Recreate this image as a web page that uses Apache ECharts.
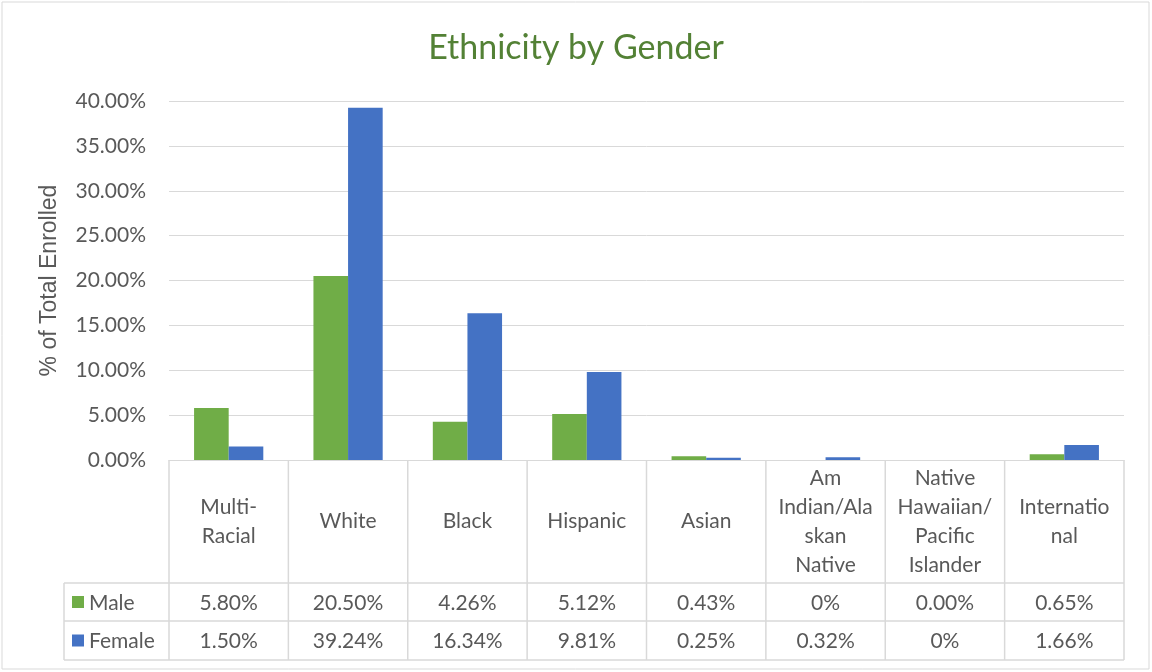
<!DOCTYPE html>
<html>
<head>
<meta charset="utf-8">
<script src="https://cdn.jsdelivr.net/npm/echarts@6/dist/echarts.min.js"></script>
<style>
  html, body { margin: 0; padding: 0; background: #fff; }
  #chart { width: 1152px; height: 672px; }
</style>
</head>
<body>
<div id="chart"></div>
<script>
// categories (wrapped as in the data table header)
const categories = ['Multi-\nRacial', 'White', 'Black', 'Hispanic', 'Asian',
  'Am\nIndian/Ala\nskan\nNative', 'Native\nHawaiian/\nPacific\nIslander', 'Internatio\nnal']
const seriesNames = ['Male', 'Female']
const maleValues = [5.80, 20.50, 4.26, 5.12, 0.43, 0, 0.00, 0.65]
const femaleValues = [1.50, 39.24, 16.34, 9.81, 0.25, 0.32, 0, 1.66]
// labels as printed in the table
const maleLabels = ['5.80%', '20.50%', '4.26%', '5.12%', '0.43%', '0%', '0.00%', '0.65%']
const femaleLabels = ['1.50%', '39.24%', '16.34%', '9.81%', '0.25%', '0.32%', '0%', '1.66%']

const GREEN = '#70ad47'
const BLUE = '#4472c4'
const LINE = '#d9d9d9'
const TEXT = '#595959'
const FONT = 'Lato, "Open Sans", sans-serif'

const chart = echarts.init(document.getElementById('chart'))

const option = {
  backgroundColor: '#fff',
  animation: false,
  title: {
    text: 'Ethnicity by Gender',
    left: 'center',
    top: 26,
    textStyle: { color: '#538135', fontSize: 34, fontWeight: 'normal', fontFamily: FONT }
  },
  grid: { left: 169, right: 28, top: 101, bottom: 212 },
  xAxis: {
    type: 'category',
    data: categories,
    axisLine: { show: true, lineStyle: { color: LINE, width: 1 } },
    axisTick: { show: false },
    axisLabel: { show: false }
  },
  yAxis: {
    type: 'value',
    min: 0,
    max: 40,
    interval: 5,
    name: '% of Total Enrolled',
    nameLocation: 'middle',
    nameGap: 108,
    nameTextStyle: { color: TEXT, fontSize: 23, fontFamily: '"Liberation Sans", Arial, sans-serif' },
    axisLine: { show: false },
    axisTick: { show: false },
    axisLabel: {
      color: TEXT,
      fontSize: 21,
      fontFamily: FONT,
      margin: 23,
      formatter: v => v.toFixed(2) + '%'
    },
    splitLine: { lineStyle: { color: LINE, width: 1 } }
  },
  series: [
    {
      name: seriesNames[0],
      type: 'bar',
      data: maleValues,
      itemStyle: { color: GREEN },
      barGap: '0%',
      barCategoryGap: '42%'
    },
    {
      name: seriesNames[1],
      type: 'bar',
      data: femaleValues,
      itemStyle: { color: BLUE },
      barGap: '0%',
      barCategoryGap: '42%'
    }
  ]
}

chart.setOption(option)

// data table under the plot, laid out from the category axis
const buildTable = () => {
  const c0 = chart.convertToPixel({ xAxisIndex: 0 }, 0)
  const c1 = chart.convertToPixel({ xAxisIndex: 0 }, 1)
  const step = c1 - c0
  const yTop = chart.convertToPixel({ yAxisIndex: 0 }, 0)
  const headBottom = yTop + 123
  const row1Bottom = headBottom + 38
  const row2Bottom = row1Bottom + 39
  const leftEdge = c0 - step / 2 - 105
  const plotRight = c0 + step * (categories.length - 0.5)
  const elements = []
  const lineStyle = { stroke: LINE, lineWidth: 1.5 }

  // outer border of the chart area
  elements.push({
    type: 'rect', shape: { x: 2, y: 2, width: 1147, height: 667 },
    style: { fill: 'none', stroke: LINE, lineWidth: 1 }
  })

  // vertical lines at category boundaries
  for (let i = 0; i <= categories.length; i++) {
    const x = c0 + step * (i - 0.5)
    elements.push({ type: 'line', shape: { x1: x, y1: yTop, x2: x, y2: row2Bottom }, style: lineStyle })
  }
  elements.push({ type: 'line', shape: { x1: leftEdge, y1: headBottom, x2: leftEdge, y2: row2Bottom }, style: lineStyle })
  ;[headBottom, row1Bottom, row2Bottom].forEach(y => {
    elements.push({ type: 'line', shape: { x1: leftEdge, y1: y, x2: plotRight, y2: y }, style: lineStyle })
  })

  const textStyle = { fill: TEXT, fontSize: 21, fontFamily: FONT, align: 'center', verticalAlign: 'middle', lineHeight: 29 }
  categories.forEach((cat, i) => {
    const x = c0 + step * i
    elements.push({ type: 'text', x: x, y: (yTop + headBottom) / 2, style: Object.assign({ text: cat }, textStyle) })
    elements.push({ type: 'text', x: x, y: (headBottom + row1Bottom) / 2 + 1, style: Object.assign({ text: maleLabels[i] }, textStyle) })
    elements.push({ type: 'text', x: x, y: (row1Bottom + row2Bottom) / 2 + 1, style: Object.assign({ text: femaleLabels[i] }, textStyle) })
  })

  // legend keys inside the table
  const rows = [[seriesNames[0], GREEN, (headBottom + row1Bottom) / 2], [seriesNames[1], BLUE, (row1Bottom + row2Bottom) / 2]]
  rows.forEach(([name, color, y]) => {
    elements.push({ type: 'rect', shape: { x: leftEdge + 8, y: y - 6, width: 12, height: 12 }, style: { fill: color } })
    elements.push({
      type: 'text', x: leftEdge + 25, y: y + 1,
      style: { text: name, fill: TEXT, fontSize: 21, fontFamily: FONT, align: 'left', verticalAlign: 'middle' }
    })
  })

  chart.setOption({ graphic: { elements } })
}

buildTable()
</script>
</body>
</html>
